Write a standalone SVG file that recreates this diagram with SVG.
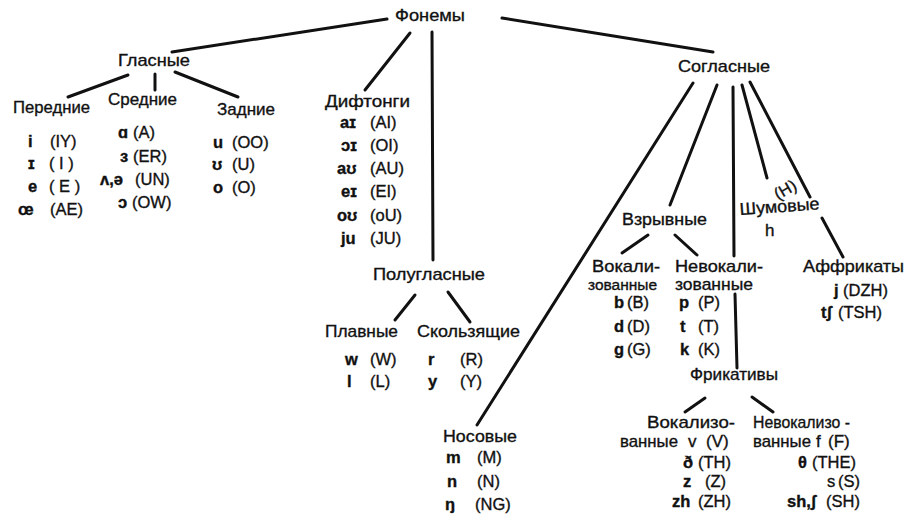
<svg xmlns="http://www.w3.org/2000/svg" width="906" height="523" viewBox="0 0 906 523">
<style>
text{font-family:"Liberation Sans","DejaVu Sans",Arial,sans-serif;fill:#111;stroke:#111;stroke-width:0.35px;}
.h{font-size:17px;}
.i{font-size:16.5px;}
.s{font-weight:bold;}
.c line{stroke:#111;stroke-width:3;stroke-linecap:round;}
</style>
<rect width="906" height="523" fill="#fff"/>
<g class="c" id="connectors">
<line x1="387" y1="19" x2="172" y2="52"/>
<line x1="410" y1="33" x2="365" y2="90"/>
<line x1="432" y1="32" x2="433" y2="260"/>
<line x1="502" y1="18" x2="713" y2="52"/>
<line x1="128" y1="75" x2="68" y2="97"/>
<line x1="155" y1="74" x2="155" y2="90"/>
<line x1="175" y1="72" x2="238" y2="97"/>
<line x1="415" y1="295" x2="395" y2="320"/>
<line x1="448" y1="292" x2="470" y2="322"/>
<line x1="693" y1="83" x2="477" y2="425"/>
<line x1="717" y1="85" x2="670" y2="205"/>
<line x1="733" y1="87" x2="734" y2="256"/>
<line x1="735" y1="294" x2="737" y2="368"/>
<line x1="742" y1="85" x2="767" y2="178"/>
<line x1="750" y1="82" x2="810" y2="197"/>
<line x1="822" y1="218" x2="843" y2="257"/>
<line x1="648" y1="235" x2="622" y2="253"/>
<line x1="675" y1="235" x2="697" y2="255"/>
<line x1="705" y1="398" x2="685" y2="412"/>
<line x1="752" y1="397" x2="773" y2="412"/>
</g>
<g id="fonemy"><text class="h" x="395" y="21" textLength="70" lengthAdjust="spacingAndGlyphs">Фонемы</text></g>
<g id="glasnye"><text class="h" x="118" y="66" textLength="72" lengthAdjust="spacingAndGlyphs">Гласные</text></g>
<g id="perednie">
<text class="h" x="13" y="113" textLength="77" lengthAdjust="spacingAndGlyphs">Передние</text>
<text class="i" x="28" y="147"><tspan class="s">i</tspan><tspan x="50">(IY)</tspan></text>
<text class="i" x="28" y="169"><tspan class="s">ɪ</tspan><tspan x="49">( I )</tspan></text>
<text class="i" x="28" y="192"><tspan class="s">e</tspan><tspan x="49">( E )</tspan></text>
<text class="i" x="18" y="215"><tspan class="s">œ</tspan><tspan x="50">(AE)</tspan></text>
</g>
<g id="srednie">
<text class="h" x="108" y="105" textLength="69" lengthAdjust="spacingAndGlyphs">Средние</text>
<text class="i" x="118" y="138"><tspan class="s">ɑ</tspan><tspan x="133">(A)</tspan></text>
<text class="i" x="120" y="162"><tspan class="s">ɜ</tspan><tspan x="133">(ER)</tspan></text>
<text class="i" x="100" y="185"><tspan class="s">ʌ,ə</tspan><tspan x="135">(UN)</tspan></text>
<text class="i" x="118" y="208"><tspan class="s">ɔ</tspan><tspan x="132">(OW)</tspan></text>
</g>
<g id="zadnie">
<text class="h" x="217" y="115" textLength="58" lengthAdjust="spacingAndGlyphs">Задние</text>
<text class="i" x="213" y="148"><tspan class="s">u</tspan><tspan x="232">(OO)</tspan></text>
<text class="i" x="212" y="170"><tspan class="s">ʊ</tspan><tspan x="232">(U)</tspan></text>
<text class="i" x="213" y="193"><tspan class="s">o</tspan><tspan x="232">(O)</tspan></text>
</g>
<g id="diftongi">
<text class="h" x="325" y="107" textLength="85" lengthAdjust="spacingAndGlyphs">Дифтонги</text>
<text class="i" x="340" y="128"><tspan class="s">aɪ</tspan><tspan x="370">(AI)</tspan></text>
<text class="i" x="341" y="151"><tspan class="s">ɔɪ</tspan><tspan x="370">(OI)</tspan></text>
<text class="i" x="337" y="174"><tspan class="s">aʊ</tspan><tspan x="370">(AU)</tspan></text>
<text class="i" x="341" y="197"><tspan class="s">eɪ</tspan><tspan x="370">(EI)</tspan></text>
<text class="i" x="337" y="221"><tspan class="s">oʊ</tspan><tspan x="370">(oU)</tspan></text>
<text class="i" x="341" y="244"><tspan class="s">ju</tspan><tspan x="370">(JU)</tspan></text>
</g>
<g id="polyglasnye"><text class="h" x="373" y="280" textLength="112" lengthAdjust="spacingAndGlyphs">Полугласные</text></g>
<g id="plavnye">
<text class="h" x="325" y="337" textLength="73" lengthAdjust="spacingAndGlyphs">Плавные</text>
<text class="i" x="345" y="365"><tspan class="s">w</tspan><tspan x="370">(W)</tspan></text>
<text class="i" x="347" y="387"><tspan class="s">l</tspan><tspan x="370">(L)</tspan></text>
</g>
<g id="skolzyashchie">
<text class="h" x="417" y="337" textLength="103" lengthAdjust="spacingAndGlyphs">Скользящие</text>
<text class="i" x="428" y="365"><tspan class="s">r</tspan><tspan x="460">(R)</tspan></text>
<text class="i" x="428" y="387"><tspan class="s">y</tspan><tspan x="460">(Y)</tspan></text>
</g>
<g id="nosovye">
<text class="h" x="443" y="442" textLength="74" lengthAdjust="spacingAndGlyphs">Носовые</text>
<text class="i" x="446" y="463"><tspan class="s">m</tspan><tspan x="477">(M)</tspan></text>
<text class="i" x="447" y="487"><tspan class="s">n</tspan><tspan x="477">(N)</tspan></text>
<text class="i" x="445" y="510"><tspan class="s">ŋ</tspan><tspan x="475">(NG)</tspan></text>
</g>
<g id="soglasnye"><text class="h" x="678" y="72" textLength="92" lengthAdjust="spacingAndGlyphs">Согласные</text></g>
<g id="vzryvnye"><text class="h" x="622" y="225" textLength="85" lengthAdjust="spacingAndGlyphs">Взрывные</text></g>
<g id="vokalizovannye">
<text class="h" x="592" y="272" textLength="68" lengthAdjust="spacingAndGlyphs">Вокали-</text>
<text class="h" x="588" y="290" style="font-size:15.5px">зованные</text>
<text class="i" x="614" y="308"><tspan class="s">b</tspan><tspan x="627">(B)</tspan></text>
<text class="i" x="614" y="332"><tspan class="s">d</tspan><tspan x="627">(D)</tspan></text>
<text class="i" x="614" y="355"><tspan class="s">g</tspan><tspan x="627">(G)</tspan></text>
</g>
<g id="nevokalizovannye">
<text class="h" x="675" y="272" textLength="88" lengthAdjust="spacingAndGlyphs">Невокали-</text>
<text class="h" x="675" y="290" textLength="78" lengthAdjust="spacingAndGlyphs">зованные</text>
<text class="i" x="679" y="308"><tspan class="s">p</tspan><tspan x="698">(P)</tspan></text>
<text class="i" x="680" y="332"><tspan class="s">t</tspan><tspan x="698">(T)</tspan></text>
<text class="i" x="680" y="355"><tspan class="s">k</tspan><tspan x="698">(K)</tspan></text>
</g>
<g id="shumovye">
<text class="i" transform="rotate(-30 786 190)" x="774" y="195">(H)</text>
<text class="h" transform="rotate(-4 740 215)" x="740" y="215" textLength="80" lengthAdjust="spacingAndGlyphs">Шумовые</text>
<text class="h" x="765" y="236">h</text>
</g>
<g id="affrikaty">
<text class="h" x="803" y="272" textLength="101" lengthAdjust="spacingAndGlyphs">Аффрикаты</text>
<text class="i" x="834" y="296"><tspan class="s">j</tspan><tspan x="843">(DZH)</tspan></text>
<text class="i" x="821" y="318"><tspan class="s">tʃ</tspan><tspan x="838">(TSH)</tspan></text>
</g>
<g id="frikativy"><text class="h" x="690" y="380" textLength="88" lengthAdjust="spacingAndGlyphs">Фрикативы</text></g>
<g id="fr-vokalizovannye">
<text class="h" x="647" y="428" textLength="88" lengthAdjust="spacingAndGlyphs">Вокализо-</text>
<text class="h" x="620" y="447"><tspan textLength="58" lengthAdjust="spacingAndGlyphs">ванные</tspan><tspan x="688">v</tspan><tspan x="706">(V)</tspan></text>
<text class="i" x="683" y="468"><tspan class="s">ð</tspan><tspan x="698">(TH)</tspan></text>
<text class="i" x="683" y="487"><tspan class="s">z</tspan><tspan x="705">(Z)</tspan></text>
<text class="i" x="672" y="507"><tspan class="s">zh</tspan><tspan x="698">(ZH)</tspan></text>
</g>
<g id="fr-nevokalizovannye">
<text class="h" x="753" y="428" textLength="97" lengthAdjust="spacingAndGlyphs">Невокализо -</text>
<text class="h" x="753" y="447"><tspan textLength="58" lengthAdjust="spacingAndGlyphs">ванные</tspan><tspan x="816">f</tspan><tspan x="828">(F)</tspan></text>
<text class="i" x="798" y="468"><tspan class="s">θ</tspan><tspan x="812">(THE)</tspan></text>
<text class="i" x="827" y="487"><tspan>s</tspan><tspan x="838">(S)</tspan></text>
<text class="i" x="787" y="507"><tspan class="s">sh,ʃ</tspan><tspan x="826">(SH)</tspan></text>
</g>
</svg>
